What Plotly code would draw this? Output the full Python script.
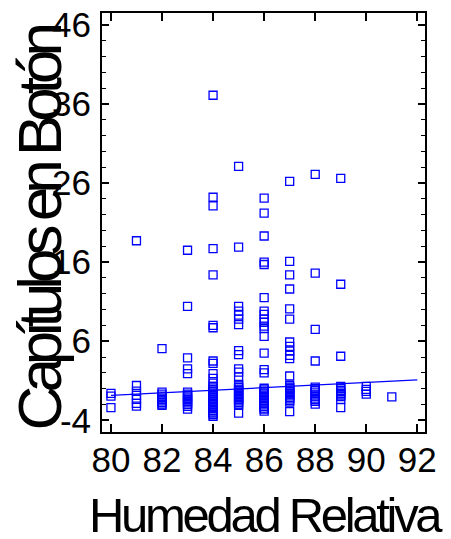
import plotly.graph_objects as go

# Scatter data: Humedad Relativa (x) vs Capítulos en Botón (y)
hum_80 = [-0.6, -0.95, -2.4]
hum_81 = [18.7, 0.4, -0.3, -0.85, -1.35, -1.85, -2.2]
hum_82 = [5.05, -0.45, -0.7, -0.95, -1.2, -1.35, -1.55, -1.75, -1.95, -2.1]
hum_83 = [17.5, 10.4, 3.9, 2.5, 1.9, -0.45, -0.7, -0.85, -1.05, -1.2, -1.4, -1.6,
          -1.8, -2.0, -2.25, -2.6]
hum_84 = [37.1, 24.2, 23.1, 17.7, 14.4, 8.0, 7.7, 3.5, 3.2, 1.9, 1.3, 0.7, 0.3,
          0.1, -0.1, -0.3, -0.45, -0.65, -0.85, -1.05, -1.2, -1.4, -1.6, -1.8,
          -2.0, -2.2, -2.35, -2.55, -2.75, -2.95, -3.1, -3.3, -3.5]
hum_85 = [28.1, 17.9, 10.4, 9.8, 9.3, 8.8, 8.1, 4.8, 4.3, 2.5, 2.1, 1.5, 0.55,
          0.35, 0.15, -0.05, -0.2, -0.4, -0.6, -0.8, -1.0, -1.2, -1.35, -1.55,
          -1.75, -1.95, -2.1, -3.1]
hum_86 = [24.1, 22.2, 19.3, 16.0, 15.7, 11.5, 9.8, 9.4, 8.8, 8.4, 7.9, 7.6, 6.6,
          4.5, 2.4, 2.0, 0.05, -0.15, -0.35, -0.55, -0.7, -0.9, -1.1, -1.3, -1.5,
          -1.7, -1.85, -2.05, -2.25, -2.45, -2.6, -2.85]
hum_87 = [26.2, 16.1, 14.4, 12.6, 10.1, 8.8, 5.9, 5.35, 4.75, 4.2, 3.8, 1.6, 0.4,
          0.2, 0.05, -0.15, -0.35, -0.55, -0.7, -0.9, -1.1, -1.3, -1.5, -1.7, -2.9]
hum_88 = [27.1, 14.6, 7.5, 3.5, 0.2, 0.0, -0.2, -0.45, -0.7, -0.95, -1.2, -1.4,
          -1.6, -1.95]
hum_89 = [26.6, 13.2, 4.1, 0.3, 0.05, -0.2, -0.4, -0.6, -0.8, -1.0, -1.35, -2.4]
hum_90 = [0.3, -0.1, -0.35, -0.7]
hum_91 = [-1.05]

groups = {80: hum_80, 81: hum_81, 82: hum_82, 83: hum_83, 84: hum_84, 85: hum_85,
          86: hum_86, 87: hum_87, 88: hum_88, 89: hum_89, 90: hum_90, 91: hum_91}

# Fitted regression line endpoints
fit_x = [80, 92]
fit_y = [-0.84, 1.1]

x_tick_vals = [80, 82, 84, 86, 88, 90, 92]
y_tick_vals = [-4, 6, 16, 26, 36, 46]

x_title = "Humedad Relativa"
y_title = "Capítulos en Botón"

xs, ys = [], []
for hx, vals in groups.items():
    for v in vals:
        xs.append(hx)
        ys.append(v)

BLUE = "#0000ff"
fig = go.Figure()
fig.add_trace(go.Scatter(
    x=xs, y=ys, mode="markers",
    marker=dict(symbol="square-open", size=8, color=BLUE, line=dict(width=1.3, color=BLUE)),
    showlegend=False, hoverinfo="x+y"))
fig.add_trace(go.Scatter(
    x=fit_x, y=fit_y, mode="lines", line=dict(color=BLUE, width=1.2),
    showlegend=False))

FONT = "Liberation Sans, Arial, sans-serif"
tick_font = dict(family=FONT, size=35, color="black")

fig.update_layout(
    width=451, height=539,
    margin=dict(l=102, r=26, t=13, b=107),
    paper_bgcolor="white", plot_bgcolor="white",
    xaxis=dict(
        range=[79.65, 92.3], tickvals=x_tick_vals, ticktext=[str(v) for v in x_tick_vals],
        ticks="inside", ticklen=8, tickwidth=1.5, tickcolor="black", automargin=False,
        showline=True, linecolor="black", linewidth=2, mirror="ticks",
        showgrid=False, zeroline=False, tickfont=tick_font, ticklabelstandoff=-4),
    yaxis=dict(
        range=[-5.48, 47.5], tickvals=y_tick_vals, ticktext=[str(v) for v in y_tick_vals],
        ticks="inside", ticklen=7, tickwidth=1.5, tickcolor="black", automargin=False,
        minor=dict(tick0=-4, dtick=2, ticks="inside", ticklen=4, tickwidth=1.2, tickcolor="black", showgrid=False),
        showline=True, linecolor="black", linewidth=2, mirror="ticks",
        showgrid=False, zeroline=False, tickfont=tick_font, ticklabelstandoff=2),
    annotations=[
        dict(text='<span style="letter-spacing:-3.3px">' + x_title + '</span>',
             xref="paper", yref="paper", x=0.508, y=-0.197,
             xanchor="center", yanchor="middle", showarrow=False,
             font=dict(family=FONT, size=49, color="black")),
        dict(text='<span style="letter-spacing:-7px">' + y_title + '</span>',
             xref="paper", yref="paper", x=-0.195, y=0.486,
             xanchor="center", yanchor="middle", showarrow=False, textangle=-90,
             font=dict(family=FONT, size=62, color="black")),
    ],
)

fig.write_html("out.html")
